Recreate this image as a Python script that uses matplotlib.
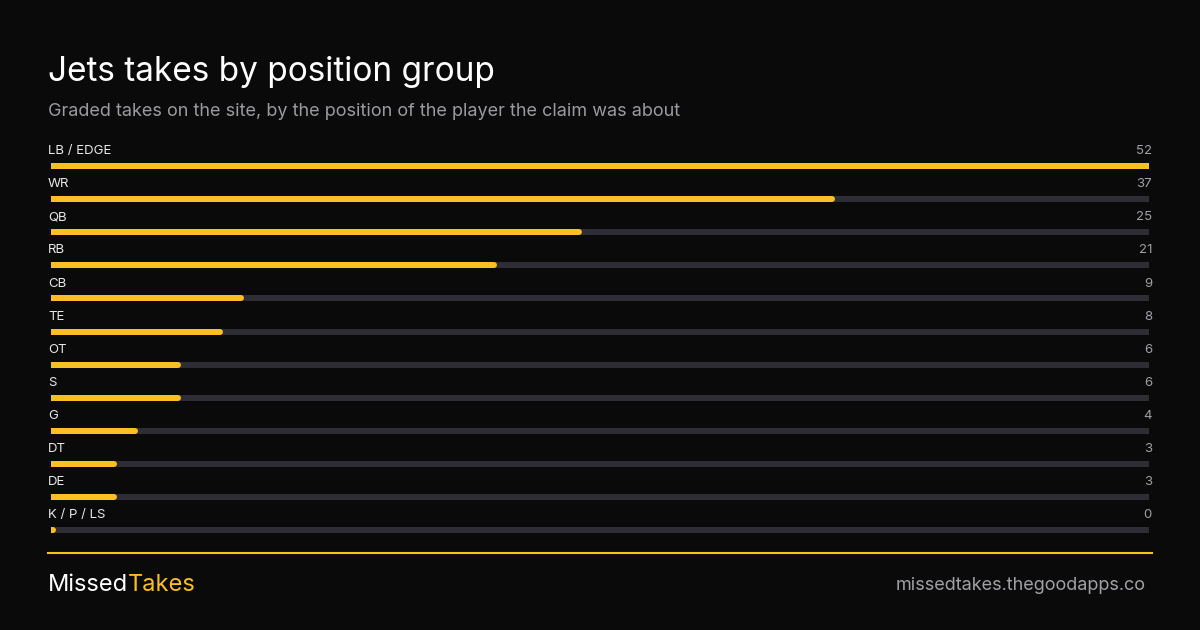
import matplotlib
matplotlib.use("Agg")
import matplotlib.pyplot as plt

positions = ["LB / EDGE", "WR", "QB", "RB", "CB", "TE", "OT", "S", "G", "DT", "DE", "K / P / LS"]
takes = [52, 37, 25, 21, 9, 8, 6, 6, 4, 3, 3, 0]

BG = "#0a0a0a"
GOLD = "#fbbf24"
TRACK = "#2e2d35"
plt.rcParams["font.family"] = ["Inter", "DejaVu Sans"]

W, H = 1200, 630
fig = plt.figure(figsize=(12, 6.3), dpi=100, facecolor=BG)

# full-figure axes for text in pixel coords
bg = fig.add_axes([0, 0, 1, 1])
bg.set_xlim(0, W)
bg.set_ylim(H, 0)
bg.axis("off")
bg.set_facecolor(BG)
bg.text(48, 72, "Jets takes by position group", color="white", fontsize=24, va="center")
bg.text(48, 111, "Graded takes on the site, by the position of the player the claim was about",
        color="#9a9aa0", fontsize=13, va="center")
bg.plot([48, 1152], [553, 553], color=GOLD, lw=1.5)
bg.text(48, 585, "Missed", color="white", fontsize=17, va="center")
bg.text(128, 585, "Takes", color=GOLD, fontsize=17, va="center")
bg.text(1146, 585, "missedtakes.thegoodapps.co", color="#a0a0a6", fontsize=13, va="center", ha="right")

# bars
top, bot = 140, 540
ax = fig.add_axes([51 / W, (H - bot) / H, 1098 / W, (bot - top) / H])
ax.axis("off")
step = 33.1
ax.set_ylim((bot - 166) / step, (top - 166) / step)
vmax = max(takes)
ax.set_xlim(0, vmax)
lw = 6 * 72 / 100
for i, (p, v) in enumerate(zip(positions, takes)):
    ax.plot([0, vmax], [i, i], color=TRACK, lw=lw, solid_capstyle="round")
    ax.plot([0, max(v, 0.1)], [i, i], color=GOLD, lw=lw, solid_capstyle="round")
    ax.annotate(p, (0, i - 0.45), xytext=(-3, 0), textcoords="offset pixels",
                color="#e8e8e8", fontsize=9.5, va="center", ha="left")
    ax.annotate(str(v), (vmax, i - 0.45), xytext=(3, 0), textcoords="offset pixels",
                color="#a0a0a6", fontsize=9.5, va="center", ha="right")

fig.savefig("out.png", dpi=100, facecolor=BG)
